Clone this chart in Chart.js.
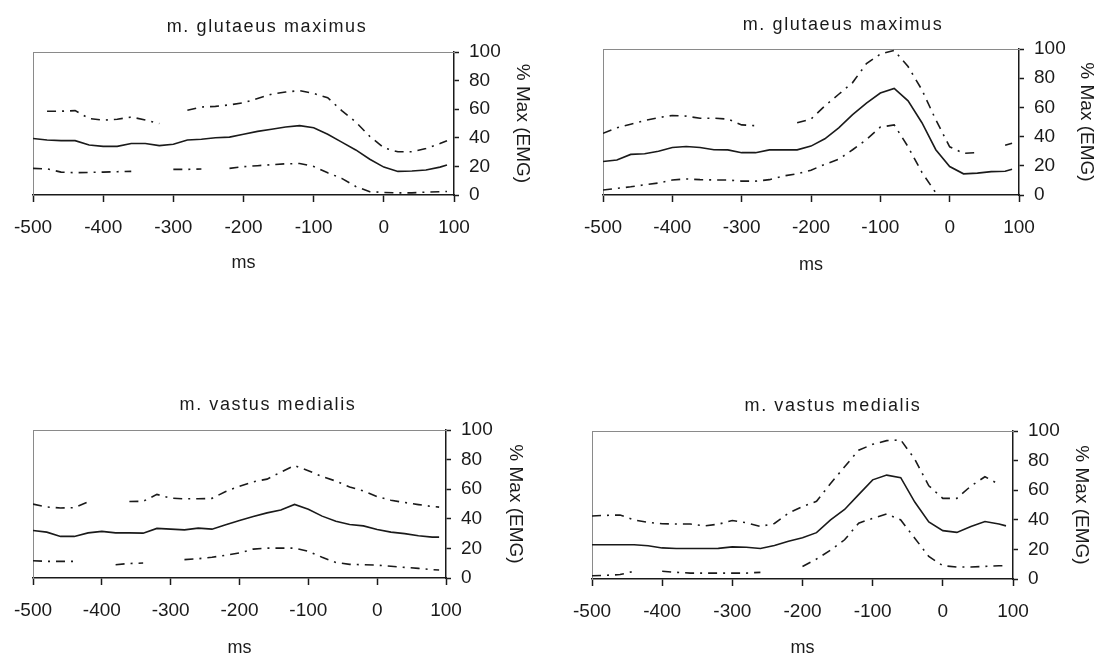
<!DOCTYPE html>
<html>
<head>
<meta charset="utf-8">
<script src="https://cdn.jsdelivr.net/npm/chart.js@4"></script>
<style>
  html, body { margin: 0; padding: 0; background: #fff; overflow: hidden; }
  body { width: 1100px; height: 654px; position: relative; }
  canvas { position: absolute; }
</style>
</head>
<body>
<canvas id="gmLeft"></canvas>
<canvas id="gmRight"></canvas>
<canvas id="vmLeft"></canvas>
<canvas id="vmRight"></canvas>
<script>
// time axis (ms before/after contact), shared by all four panels
const timeMs = [-500, -480, -460, -440, -420, -400, -380, -360, -340, -320, -300, -280, -260, -240, -220,
  -200, -180, -160, -140, -120, -100, -80, -60, -40, -20, 0, 20, 40, 60, 80, 90];

const xTickValues = [-500, -400, -300, -200, -100, 0, 100];
const yTickValues = [0, 20, 40, 60, 80, 100];

const panelTitles = ['m. glutaeus maximus', 'm. glutaeus maximus', 'm. vastus medialis', 'm. vastus medialis'];

// m. glutaeus maximus, left panel
const gmLeftMean = [39.5, 38.5, 38, 38, 35, 34, 34, 36, 36, 34.5, 35.5, 38.5, 39, 40, 40.5,
  42.5, 44.5, 46, 47.5, 48.5, 47, 42.5, 37, 31.5, 25, 19.5, 16.5, 16.8, 17.5, 19.5, 21];
const gmLeftUpper = [null, 58.6, 58.6, 59, 53.5, 52.3, 53, 54.5, 52.5, 50, null, 59.3, 61.5, 62, 63,
  64.5, 67.5, 70.5, 72, 73, 71, 68, 59, 51, 41, 33, 30.2, 30.2, 32.5, 36, 38];
const gmLeftLower = [18.6, 18.3, 16, 15.6, 15.8, 16, 16.3, 16.5, null, null, 17.9, 17.9, 18.2, null, 18.6,
  19.8, 20.5, 21.2, 21.8, 22, 20, 15.5, 11.6, 6, 2.3, 1.8, 1.5, 1.5, 2, 2.3, 2.5];

// m. glutaeus maximus, right panel
const gmRightMean = [22.9, 24, 27.8, 28.3, 30, 32.5, 33.2, 32.5, 31, 30.9, 29, 29, 30.9, 30.9, 30.9,
  33.5, 38.5, 46, 55, 63, 69.8, 73, 64.5, 49.5, 31, 19.5, 14.5, 15, 16, 16.3, 17.6];
const gmRightUpper = [42.3, 46, 48.5, 51, 53, 54.5, 54, 52.6, 52.6, 52, 48, 47.5, null, null, 49.5,
  52, 61, 69, 77, 90, 96.5, 99, 88, 72, 51.5, 33, 28.6, 29, null, 34, 35.5];
const gmRightLower = [3.4, 4.5, 5.6, 7, 8.2, 10.3, 11, 10.5, 10.3, 10.3, 9.5, 9.5, 10.5, 13, 14.5,
  17, 21, 24.5, 31, 38, 46.5, 48, 33, 15.5, 1.5, null, null, null, null, null, null];

// m. vastus medialis, left panel
const vmLeftMean = [32.1, 31, 28.1, 28.1, 30.5, 31.5, 30.5, 30.5, 30.3, 33.5, 33, 32.5, 33.7, 33, 36,
  38.8, 41.5, 44, 46, 49.7, 46.5, 41.8, 38.3, 36.2, 35.2, 32.8, 31, 30, 28.5, 27.6, 27.6];
const vmLeftUpper = [49.9, 48, 47.3, 47.5, 51.5, null, null, 51.7, 51.8, 56.5, 54, 53.5, 53.5, 53.8, 58.5,
  62, 65, 66.8, 71.5, 76, 72.5, 68.5, 65.5, 61.5, 58.8, 55, 52.5, 51, 49.6, 48.3, 47.9];
const vmLeftLower = [11.7, 11.2, 11.2, 11.2, null, null, 9, 9.8, 10.1, null, null, 12.4, 13, 14, 15.4,
  17, 19.5, 20.2, 20.2, 20.2, 18, 14, 10.5, 9.2, 9, 8.7, 7.9, 7.2, 6.5, 5.6, 5.4];

// m. vastus medialis, right panel
const vmRightMean = [23.1, 23.1, 23.1, 23.1, 22.5, 21, 20.6, 20.6, 20.6, 20.7, 21.7, 21.5, 20.6, 22.6, 25.5,
  27.8, 31.3, 39.9, 47, 57, 67, 70.2, 68.5, 52, 38.5, 32.7, 31.5, 35.4, 38.8, 37.2, 35.9];
const vmRightUpper = [42.6, 43, 43.2, 39.9, 38.3, 37.3, 37.2, 37.2, 35.9, 37, 39.5, 38, 35.5, 37.5, 44.5,
  49, 52.5, 64.6, 75.8, 87, 91, 93.5, 94, 81, 63, 54.5, 54.5, 62.8, 69.1, 64, null];
const vmRightLower = [2.2, 2.5, 3, 5.2, null, 5.2, 4.5, 4, 4, 4, 4, 4, 4.5, null, null,
  8.5, 13.5, 19.5, 26.5, 37.7, 41, 44, 39.9, 27.6, 15.2, 9, 8.1, 8.1, 8.5, 9, 9];

const FONT = '"Liberation Sans", Arial, sans-serif';
const INK = '#1a1a1a';
Chart.defaults.font.family = FONT;
Chart.defaults.color = INK;

// draws the panel heading at a fixed spot (the original's headings sit off-centre)
const panelTitlePlugin = {
  id: 'panelTitle',
  afterDraw(chart, args, opts) {
    const ctx = chart.ctx;
    ctx.save();
    ctx.font = '18px ' + FONT;
    ctx.letterSpacing = '1.6px';
    ctx.fillStyle = INK;
    ctx.textAlign = 'center';
    ctx.textBaseline = 'middle';
    ctx.fillText(opts.text, opts.x, opts.y);
    ctx.restore();
  }
};

function toPoints(values) {
  return timeMs.map((t, i) => ({ x: t, y: values[i] }));
}

function makePanel(id, title, mean, upper, lower, g) {
  const canvas = document.getElementById(id);
  canvas.width = g.w;
  canvas.height = g.h;
  canvas.style.left = g.left + 'px';
  canvas.style.top = g.top + 'px';

  const band = { borderColor: INK, borderWidth: 1.6, borderDash: [9, 6, 2, 6], pointRadius: 0, fill: false, tension: 0 };
  const dotted = { display: true, color: '#8a8a8a', width: 1, dash: [1, 2] };

  new Chart(canvas, {
    type: 'line',
    data: {
      datasets: [
        { label: 'upper', data: toPoints(upper), ...band },
        { label: 'mean', data: toPoints(mean), borderColor: INK, borderWidth: 1.6, pointRadius: 0, fill: false, tension: 0 },
        { label: 'lower', data: toPoints(lower), ...band }
      ]
    },
    plugins: [panelTitlePlugin],
    options: {
      responsive: false,
      animation: false,
      layout: { padding: { left: g.padLeft, top: g.padTop, right: 0, bottom: 0 } },
      plugins: {
        legend: { display: false },
        tooltip: { enabled: false },
        panelTitle: { text: title, x: g.titleX, y: g.titleY }
      },
      scales: {
        x: {
          type: 'linear',
          position: 'bottom',
          min: -500,
          max: 100,
          afterBuildTicks: s => { s.ticks = xTickValues.map(v => ({ value: v })); },
          afterFit: s => { s.height = g.hx; },
          ticks: { font: { size: 19, lineHeight: 1.2 }, padding: 14, maxRotation: 0, autoSkip: false },
          grid: { drawOnChartArea: false, tickLength: 7, tickColor: INK, tickWidth: 1.5 },
          border: { color: INK, width: 1.5 },
          title: { display: true, text: 'ms', font: { size: 18, lineHeight: 1 }, padding: { top: 0, bottom: g.msPad } }
        },
        y: {
          position: 'right',
          min: 0,
          max: 100,
          afterBuildTicks: s => { s.ticks = yTickValues.map(v => ({ value: v })); },
          afterFit: s => { s.width = g.wy; },
          ticks: { font: { size: 19, lineHeight: 1.2 }, padding: 10 },
          grid: { drawOnChartArea: false, tickLength: 5, tickColor: INK, tickWidth: 1.5 },
          border: { color: INK, width: 1.5 },
          title: { display: true, text: '% Max (EMG)', font: { size: 19, lineHeight: 1 }, padding: { top: g.yTitlePad, bottom: 0 } }
        },
        xTop: {
          type: 'linear',
          position: 'top',
          min: -500,
          max: 100,
          ticks: { display: false },
          grid: { display: false },
          border: dotted,
          afterFit: s => { s.height = 0; }
        },
        yLeft: {
          position: 'left',
          min: 0,
          max: 100,
          ticks: { display: false },
          grid: { display: false },
          border: dotted,
          afterFit: s => { s.width = 0; }
        }
      }
    }
  });
}

makePanel('gmLeft', panelTitles[0], gmLeftMean, gmLeftUpper, gmLeftLower,
  { left: 0, top: 0, w: 550, h: 320, padLeft: 33, padTop: 52, wy: 96, hx: 125, msPad: 48, yTitlePad: 18, titleX: 267, titleY: 27 });
makePanel('gmRight', panelTitles[1], gmRightMean, gmRightUpper, gmRightLower,
  { left: 550, top: 0, w: 550, h: 320, padLeft: 53, padTop: 49, wy: 81, hx: 125, msPad: 46, yTitlePad: 4, titleX: 293, titleY: 25 });
makePanel('vmLeft', panelTitles[2], vmLeftMean, vmLeftUpper, vmLeftLower,
  { left: 0, top: 320, w: 550, h: 360, padLeft: 32, padTop: 110, wy: 104, hx: 102, msPad: 23, yTitlePad: 25, titleX: 268, titleY: 85 });
makePanel('vmRight', panelTitles[3], vmRightMean, vmRightUpper, vmRightLower,
  { left: 550, top: 320, w: 550, h: 360, padLeft: 42, padTop: 111, wy: 87, hx: 101, msPad: 23, yTitlePad: 9, titleX: 283, titleY: 86 });
</script>
</body>
</html>
